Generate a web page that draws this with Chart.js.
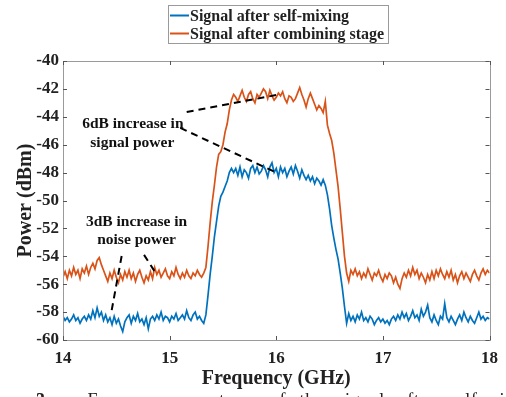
<!DOCTYPE html>
<html>
<head>
<meta charset="utf-8">
<script src="https://cdn.jsdelivr.net/npm/chart.js@4.4.1/dist/chart.umd.min.js"></script>
<style>
  html, body { margin: 0; padding: 0; background: #fff; overflow: hidden; width: 506px; height: 397px; }
  #wrap { position: relative; width: 506px; height: 397px; overflow: hidden; }
  canvas { position: absolute; left: 0; top: 0; }
  #caption { position: absolute; left: 36px; top: 390px; font: 18px "Liberation Serif", serif; color: #222; white-space: nowrap; word-spacing: 8px; letter-spacing: 0.8px; }
</style>
</head>
<body>
<div id="wrap">
<canvas id="c" width="506" height="397"></canvas>
<div id="caption"><b>3.</b>  –  Frequency spectrum of the signal after self-mixing</div>
</div>
<script>
// ---- data ----
const seriesLabels = ["Signal after self-mixing", "Signal after combining stage"];
const freqStartGHz = 14, freqStepGHz = 0.02, freqCount = 201;
const freqGHz = Array.from({length: freqCount}, (_, i) => +(freqStartGHz + i * freqStepGHz).toFixed(2));

const selfMixing = [
 -58.3,-58.6,-58.4,-58.7,-58.5,-58.2,-58.6,-58.4,-58.8,-58.5,
 -58.3,-58.6,-58.2,-58.5,-57.9,-58.4,-57.7,-58.3,-58.0,-58.6,
 -58.2,-58.7,-58.4,-58.9,-58.3,-58.8,-58.5,-59.0,-59.4,-58.7,
 -58.4,-58.2,-58.8,-58.3,-58.6,-58.1,-58.7,-58.5,-58.9,-58.4,
 -59.2,-58.5,-58.3,-58.6,-58.2,-58.5,-58.0,-58.6,-58.3,-58.4,
 -58.7,-58.3,-58.5,-58.1,-58.6,-58.4,-58.2,-58.5,-57.9,-58.4,
 -58.6,-58.2,-58.0,-58.5,-58.3,-58.6,-58.8,-58.2,-56.8,-55.3,
 -54.0,-52.6,-51.5,-50.4,-49.7,-49.4,-49.0,-48.6,-48.0,-47.7,
 -48.0,-47.7,-48.2,-47.6,-48.3,-47.8,-48.0,-48.4,-47.7,-47.5,
 -48.0,-47.6,-48.1,-47.9,-47.5,-47.8,-48.3,-47.6,-47.3,-48.0,
 -47.7,-48.3,-47.6,-48.0,-47.7,-48.3,-47.9,-47.6,-48.1,-47.5,
 -47.9,-48.4,-47.8,-48.2,-48.5,-48.2,-48.6,-48.3,-48.8,-48.4,
 -48.6,-48.9,-48.5,-48.9,-49.6,-50.6,-51.8,-52.7,-53.5,-54.2,
 -55.2,-56.3,-57.6,-58.8,-58.1,-58.6,-58.3,-58.7,-58.2,-58.5,
 -58.0,-58.6,-58.4,-58.7,-58.3,-58.5,-58.9,-58.6,-58.4,-58.7,
 -58.5,-58.8,-58.6,-58.9,-58.5,-58.3,-58.6,-58.2,-58.5,-58.0,
 -58.4,-58.1,-58.6,-58.3,-57.9,-58.4,-58.2,-58.6,-57.8,-58.3,
 -58.0,-57.5,-58.4,-58.7,-58.2,-58.6,-58.9,-58.3,-58.5,-57.4,
 -58.4,-58.7,-58.3,-58.6,-58.9,-58.5,-58.2,-58.6,-58.0,-58.4,
 -58.7,-58.3,-58.6,-58.8,-58.4,-58.0,-58.5,-58.3,-58.6,-58.4,
 -58.5
];

const combining = [
 -55.5,-55.1,-55.6,-55.0,-55.4,-54.8,-55.3,-55.0,-55.6,-54.9,
 -55.2,-54.7,-55.3,-54.8,-54.5,-54.9,-54.3,-54.1,-54.6,-55.0,
 -55.4,-55.8,-55.2,-55.6,-55.0,-55.5,-55.9,-55.3,-55.7,-55.1,
 -55.5,-55.0,-55.6,-55.2,-55.8,-55.3,-55.0,-55.5,-55.9,-55.4,
 -55.7,-55.1,-55.6,-54.8,-55.3,-55.0,-55.5,-55.2,-54.9,-55.4,
 -55.6,-55.1,-55.4,-54.8,-55.3,-55.6,-55.2,-55.5,-55.0,-55.4,
 -55.6,-55.2,-55.4,-55.0,-55.3,-55.5,-55.2,-54.8,-53.3,-51.6,
 -50.1,-48.9,-47.6,-46.7,-46.5,-46.0,-45.1,-44.5,-43.5,-42.8,
 -42.4,-42.6,-42.9,-42.5,-42.1,-42.6,-42.9,-42.4,-42.2,-42.7,
 -43.0,-42.4,-42.6,-42.3,-42.0,-42.2,-42.7,-42.1,-42.5,-42.8,
 -42.6,-42.3,-42.5,-42.2,-42.7,-43.0,-42.5,-42.6,-42.9,-42.7,
 -42.3,-41.9,-42.4,-42.8,-43.3,-42.7,-42.3,-42.7,-43.1,-43.5,
 -43.2,-43.4,-43.7,-42.9,-44.6,-45.2,-45.7,-46.6,-47.8,-49.0,
 -50.6,-52.3,-54.0,-55.2,-55.8,-55.0,-55.3,-54.9,-55.4,-55.1,
 -55.6,-55.2,-55.5,-54.9,-55.3,-55.7,-55.2,-55.4,-55.0,-55.5,
 -55.8,-55.3,-55.6,-55.2,-55.4,-55.9,-55.5,-56.0,-56.3,-55.6,
 -55.2,-55.5,-55.0,-55.4,-54.8,-55.3,-55.0,-55.6,-55.2,-55.5,
 -55.9,-55.3,-55.7,-55.1,-55.6,-55.0,-55.4,-54.9,-55.3,-55.6,
 -55.1,-55.5,-55.0,-55.7,-55.3,-55.9,-55.4,-55.1,-55.6,-55.2,
 -55.5,-55.8,-55.3,-55.0,-55.4,-55.7,-55.2,-54.9,-55.3,-55.0,
 -55.2
];

const xTicks = [14, 15, 16, 17, 18];
const yTicks = [-60, -58, -56, -54, -52, -50, -48, -46, -44, -42, -40];

// annotations (data coordinates)
const annoTexts = [
  {text: "6dB increase in", x: 14.655, y: -44.5},
  {text: "signal power",    x: 14.65,  y: -45.9},
  {text: "3dB increase in", x: 14.69,  y: -51.55},
  {text: "noise power",     x: 14.69,  y: -52.85}
];
const annoLines = [
  [[15.16, -43.66], [16.0, -42.44]],
  [[15.10, -44.80], [15.99, -47.96]],
  [[14.55, -53.98], [14.45, -58.14]],
  [[14.76, -53.90], [14.87, -55.20]]
];

const colors = ["#0072BD", "#D95319"];
const serif = '"Liberation Serif", "Times New Roman", serif';

const overlay = {
  id: 'overlay',
  afterDatasetsDraw(chart) {
    const {ctx, chartArea: a, scales: {x, y}} = chart;
    ctx.save();
    // dashed annotation lines
    ctx.strokeStyle = '#000';
    ctx.lineWidth = 2;
    ctx.setLineDash([7, 5]);
    annoLines.forEach(([p, q]) => {
      ctx.beginPath();
      ctx.moveTo(x.getPixelForValue(p[0]), y.getPixelForValue(p[1]));
      ctx.lineTo(x.getPixelForValue(q[0]), y.getPixelForValue(q[1]));
      ctx.stroke();
    });
    ctx.setLineDash([]);
    // annotation text
    ctx.fillStyle = '#111';
    ctx.font = 'bold 15.5px ' + serif;
    ctx.textAlign = 'center';
    ctx.textBaseline = 'middle';
    annoTexts.forEach(t => ctx.fillText(t.text, x.getPixelForValue(t.x), y.getPixelForValue(t.y)));
    // box
    ctx.strokeStyle = '#9a9a9a';
    ctx.lineWidth = 1;
    ctx.strokeRect(Math.round(a.left) + 0.5, Math.round(a.top) + 0.5, Math.round(a.right - a.left), Math.round(a.bottom - a.top));
    // inward ticks
    ctx.strokeStyle = '#555';
    ctx.beginPath();
    xTicks.forEach(v => {
      const px = Math.round(x.getPixelForValue(v)) + 0.5;
      ctx.moveTo(px, a.bottom); ctx.lineTo(px, a.bottom - 4);
      ctx.moveTo(px, a.top); ctx.lineTo(px, a.top + 4);
    });
    yTicks.forEach(v => {
      const py = Math.round(y.getPixelForValue(v)) + 0.5;
      ctx.moveTo(a.left, py); ctx.lineTo(a.left + 4, py);
      ctx.moveTo(a.right, py); ctx.lineTo(a.right - 4, py);
    });
    ctx.stroke();
    // axis titles
    ctx.fillStyle = '#222';
    ctx.font = 'bold 20px ' + serif;
    ctx.fillText('Frequency (GHz)', (a.left + a.right) / 2, 379);
    ctx.save();
    ctx.translate(26, (a.top + a.bottom) / 2);
    ctx.rotate(-Math.PI / 2);
    ctx.fillText('Power (dBm)', 0, 0);
    ctx.restore();
    // legend
    ctx.fillStyle = '#fff';
    ctx.fillRect(168, 5, 220, 38);
    ctx.strokeStyle = '#9a9a9a';
    ctx.strokeRect(168.5, 5.5, 220, 38);
    ctx.font = 'bold 16px ' + serif;
    ctx.textAlign = 'left';
    chart.data.datasets.forEach((ds, i) => {
      const cy = 15.5 + i * 18;
      ctx.strokeStyle = ds.borderColor;
      ctx.lineWidth = 2;
      ctx.beginPath();
      ctx.moveTo(170, cy); ctx.lineTo(189, cy);
      ctx.stroke();
      ctx.fillStyle = '#222';
      ctx.fillText(ds.label, 190, cy + 1);
    });
    ctx.restore();
  }
};

Chart.defaults.font.family = serif;
new Chart(document.getElementById('c'), {
  type: 'line',
  data: {
    datasets: [
      {label: seriesLabels[0], data: freqGHz.map((f, i) => ({x: f, y: selfMixing[i]})), borderColor: colors[0], backgroundColor: colors[0], borderWidth: 1.7, pointRadius: 0, tension: 0},
      {label: seriesLabels[1], data: freqGHz.map((f, i) => ({x: f, y: combining[i]})), borderColor: colors[1], backgroundColor: colors[1], borderWidth: 1.7, pointRadius: 0, tension: 0}
    ]
  },
  options: {
    responsive: false,
    animation: false,
    layout: {padding: {top: 61, right: 14, left: 0, bottom: 0}},
    plugins: {legend: {display: false}, tooltip: {enabled: false}},
    scales: {
      x: {
        type: 'linear', min: 14, max: 18,
        afterFit(s) { s.height = 57; },
        afterBuildTicks(s) { s.ticks = xTicks.map(v => ({value: v})); },
        grid: {display: false, drawTicks: false},
        border: {display: false},
        ticks: {color: '#222', font: {size: 17, weight: 'bold'}, padding: 8, maxRotation: 0, callback: v => String(v)}
      },
      y: {
        type: 'linear', min: -60, max: -40,
        afterFit(s) { s.width = 63; },
        afterBuildTicks(s) { s.ticks = yTicks.map(v => ({value: v})); },
        grid: {display: false, drawTicks: false},
        border: {display: false},
        ticks: {color: '#222', font: {size: 17, weight: 'bold'}, padding: 4, callback: v => String(v)}
      }
    }
  },
  plugins: [overlay]
});
</script>
</body>
</html>
